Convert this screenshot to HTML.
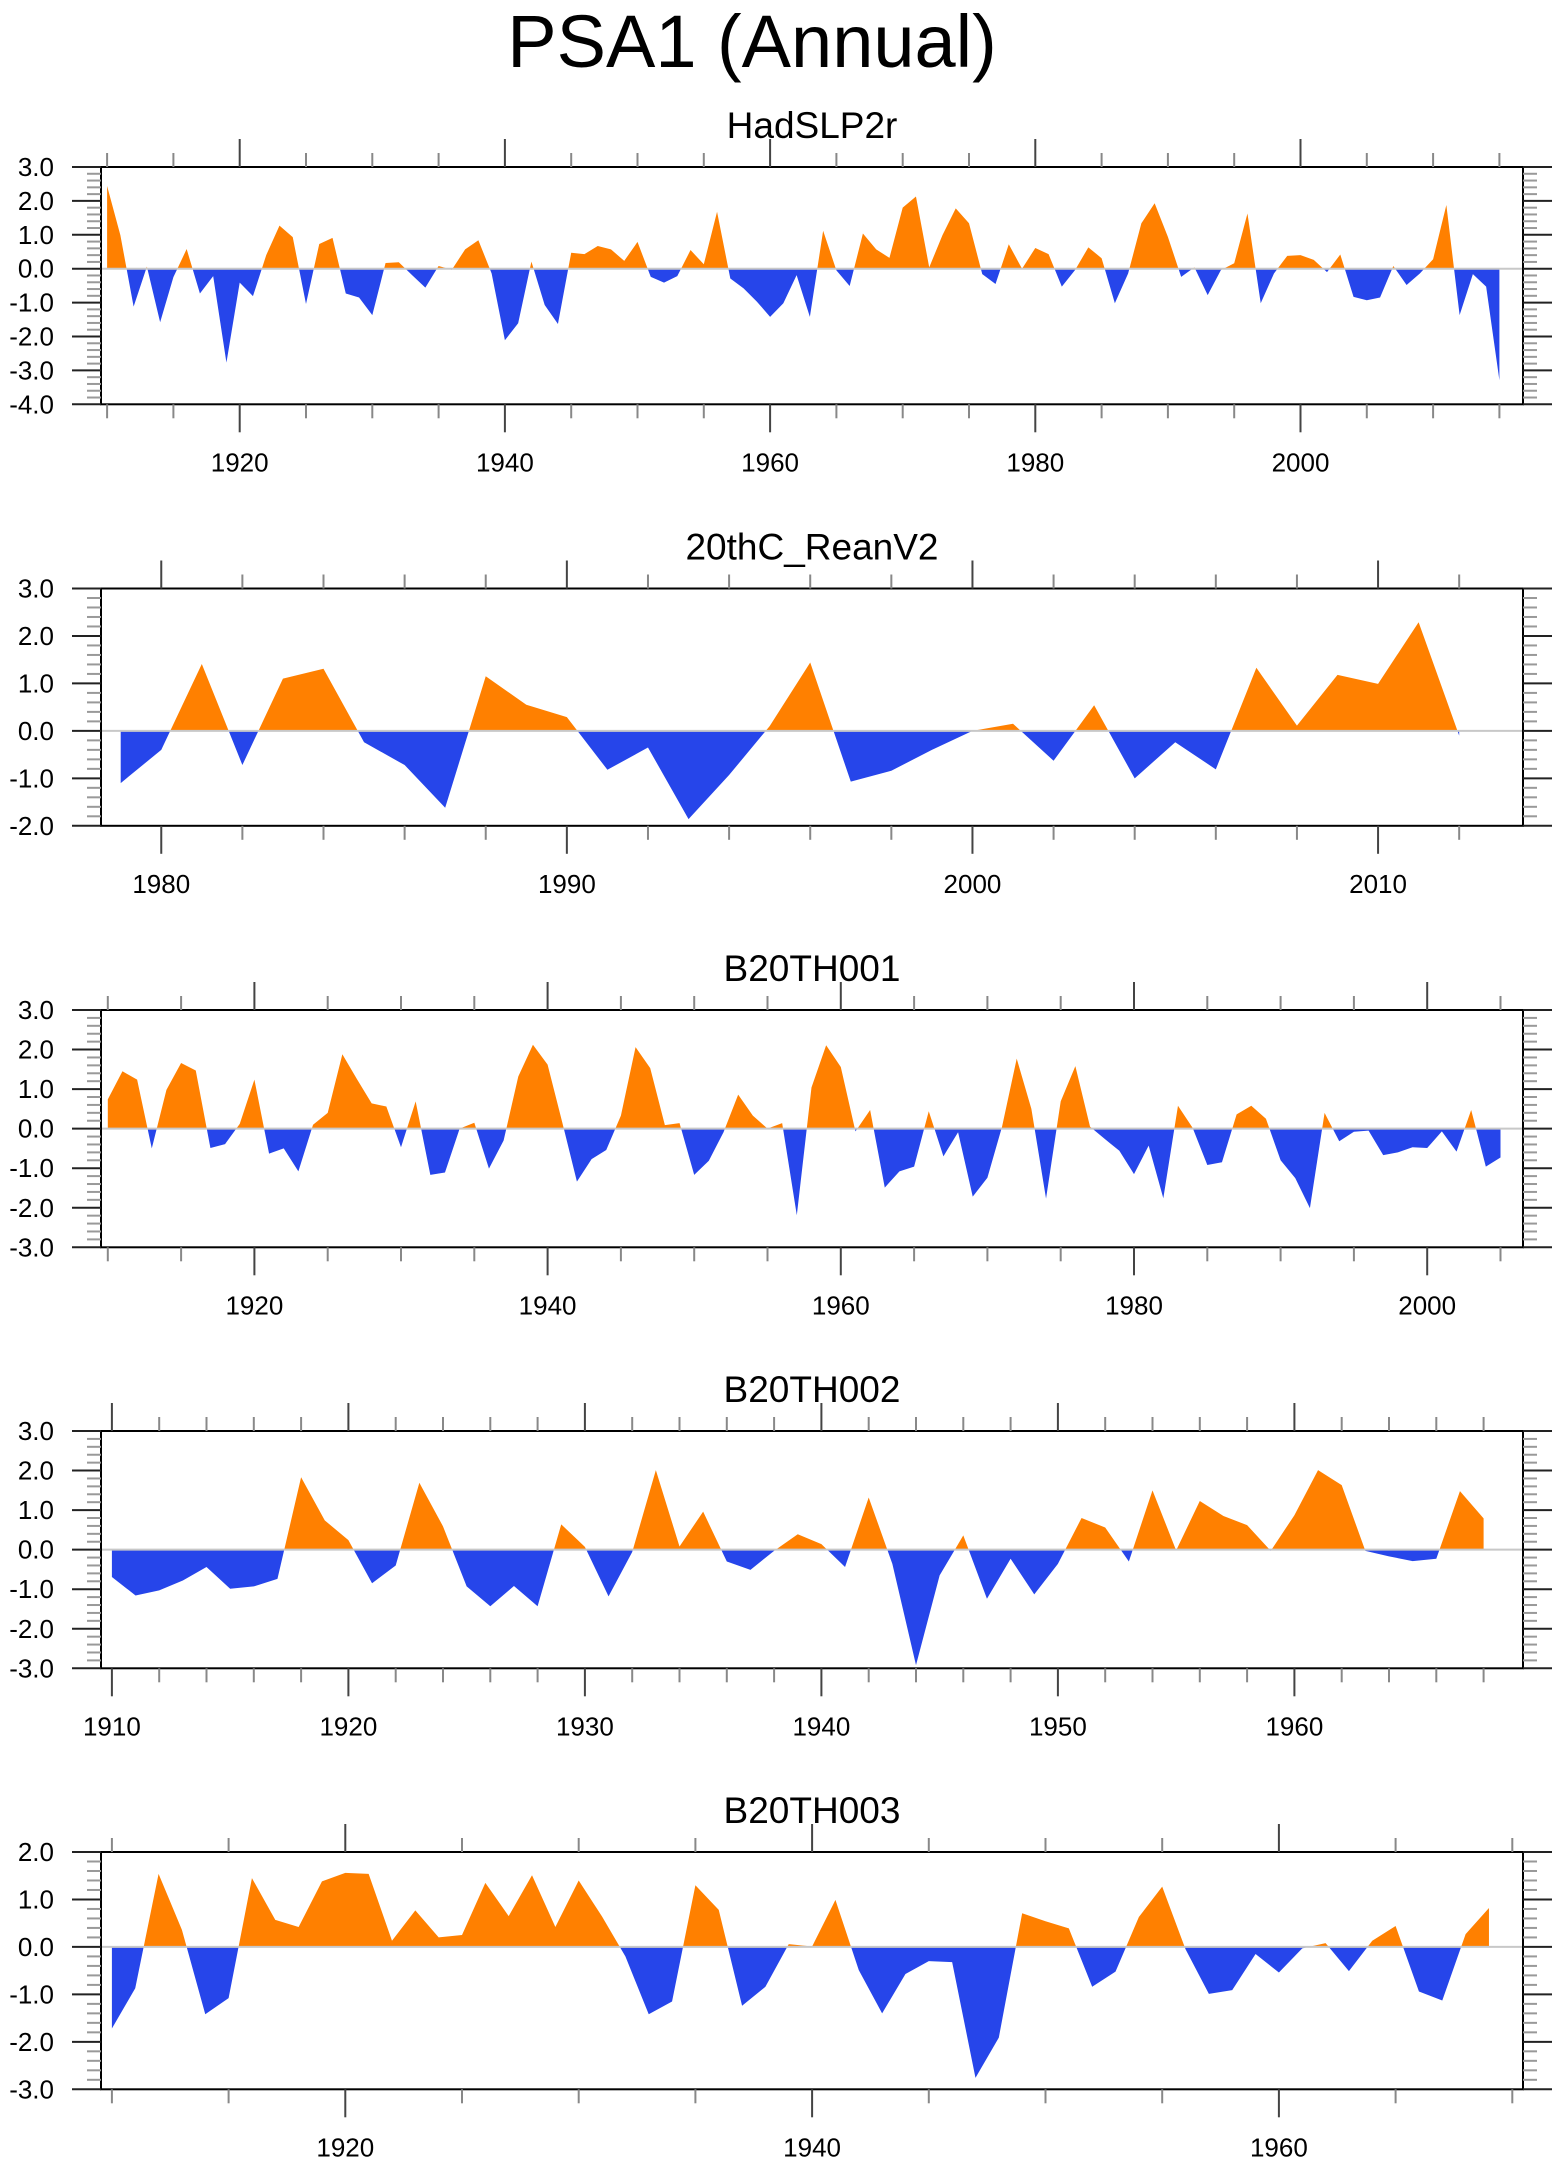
<!DOCTYPE html>
<html><head><meta charset="utf-8"><title>PSA1 (Annual)</title>
<style>
html,body{margin:0;padding:0;background:#fff;}
svg{display:block;font-family:"Liberation Sans",Arial,sans-serif;}
</style></head>
<body>
<svg id="fig" width="1560" height="2165" viewBox="0 0 1560 2165" xmlns="http://www.w3.org/2000/svg">
<text x="752" y="67" font-size="74" text-anchor="middle" fill="#000">PSA1 (Annual)</text>
</svg>
<script>
const hadYears0 = 1910;
const hadValues = [2.44,0.99,-1.12,0.06,-1.58,-0.25,0.58,-0.73,-0.22,-2.77,-0.41,-0.81,0.40,1.27,0.93,-1.04,0.73,0.91,-0.73,-0.85,-1.37,0.17,0.19,-0.19,-0.56,0.08,-0.03,0.57,0.84,-0.14,-2.11,-1.61,0.21,-1.07,-1.63,0.47,0.43,0.67,0.57,0.23,0.79,-0.24,-0.41,-0.22,0.55,0.13,1.68,-0.29,-0.58,-0.97,-1.42,-1.02,-0.19,-1.42,1.12,-0.05,-0.51,1.04,0.57,0.32,1.80,2.13,0.04,0.99,1.78,1.34,-0.16,-0.45,0.72,0.0,0.61,0.43,-0.53,-0.04,0.63,0.31,-1.02,-0.14,1.34,1.93,0.94,-0.24,0.04,-0.78,-0.04,0.16,1.63,-1.02,-0.14,0.38,0.40,0.26,-0.10,0.42,-0.83,-0.93,-0.85,0.08,-0.48,-0.14,0.28,1.88,-1.37,-0.16,-0.53,-3.29];
const reanYears0 = 1979;
const reanValues = [-1.10,-0.40,1.41,-0.72,1.10,1.31,-0.24,-0.72,-1.62,1.15,0.55,0.29,-0.82,-0.35,-1.86,-0.93,0.10,1.44,-1.07,-0.84,-0.40,0.0,0.15,-0.63,0.54,-1.00,-0.24,-0.81,1.33,0.11,1.18,0.99,2.29,-0.10];
const b001Years0 = 1910;
const b001Values = [0.74,1.45,1.24,-0.50,0.98,1.66,1.47,-0.49,-0.39,0.12,1.24,-0.63,-0.50,-1.08,0.10,0.40,1.88,1.25,0.64,0.56,-0.47,0.69,-1.17,-1.11,0.0,0.15,-1.01,-0.30,1.32,2.12,1.62,0.16,-1.34,-0.77,-0.54,0.33,2.06,1.53,0.09,0.14,-1.17,-0.81,-0.09,0.86,0.33,0.0,0.14,-2.19,1.04,2.11,1.56,-0.07,0.47,-1.49,-1.08,-0.96,0.44,-0.70,-0.09,-1.72,-1.24,0.05,1.77,0.50,-1.77,0.69,1.58,0.05,-0.26,-0.56,-1.15,-0.43,-1.76,0.58,0.02,-0.92,-0.85,0.36,0.58,0.25,-0.80,-1.25,-2.01,0.40,-0.32,-0.08,-0.05,-0.67,-0.60,-0.47,-0.49,-0.07,-0.58,0.47,-0.96,-0.73];
const b002Years0 = 1910;
const b002Values = [-0.69,-1.16,-1.03,-0.78,-0.44,-0.99,-0.93,-0.74,1.83,0.74,0.24,-0.85,-0.40,1.69,0.59,-0.93,-1.43,-0.92,-1.43,0.64,0.07,-1.18,-0.06,2.01,0.08,0.96,-0.30,-0.51,-0.03,0.39,0.14,-0.44,1.32,-0.36,-2.92,-0.65,0.36,-1.24,-0.23,-1.13,-0.36,0.80,0.56,-0.30,1.50,-0.02,1.23,0.85,0.62,-0.03,0.87,2.01,1.63,-0.03,-0.17,-0.29,-0.23,1.48,0.79];
const b003Years0 = 1910;
const b003Values = [-1.72,-0.87,1.54,0.36,-1.42,-1.08,1.45,0.57,0.42,1.38,1.56,1.54,0.13,0.77,0.20,0.25,1.35,0.65,1.51,0.42,1.40,0.64,-0.20,-1.42,-1.15,1.30,0.78,-1.24,-0.84,0.06,0.01,0.99,-0.49,-1.40,-0.57,-0.30,-0.32,-2.76,-1.91,0.71,0.54,0.39,-0.84,-0.52,0.63,1.27,-0.05,-0.99,-0.91,-0.15,-0.54,-0.03,0.08,-0.51,0.13,0.44,-0.94,-1.13,0.27,0.82];

const panelTitles = ["HadSLP2r","20thC_ReanV2","B20TH001","B20TH002","B20TH003"];
const yMins = [-4,-2,-3,-3,-3];
const yMaxs = [3,3,3,3,2];
const xLabelYears = [[1920,1940,1960,1980,2000],[1980,1990,2000,2010],[1920,1940,1960,1980,2000],[1910,1920,1930,1940,1950,1960],[1920,1940,1960]];

const NS = "http://www.w3.org/2000/svg";
const svg = document.getElementById("fig");
function mk(tag, attrs, parent){const e=document.createElementNS(NS,tag);for(const k in attrs)e.setAttribute(k,attrs[k]);(parent||svg).appendChild(e);return e;}

const L=101, R=1523, H=237.3;
const tops=[167,588.5,1010,1431,1852];
const xMaps=[{x0:107.1,s:13.26},{x0:120.7,s:40.56},{x0:107.8,s:14.66},{x0:111.9,s:23.65},{x0:111.9,s:23.34}];
const minorStep=[5,2,5,2,5], majorStep=[20,10,20,10,20];
const seriesVals=[hadValues,reanValues,b001Values,b002Values,b003Values];
const seriesY0=[hadYears0,reanYears0,b001Years0,b002Years0,b003Years0];
const slugs=["hadslp2r","20thc-reanv2","b20th001","b20th002","b20th003"];

for(let p=0;p<5;p++){
  const top=tops[p], bot=top+H;
  const ymin=yMins[p], ymax=yMaxs[p];
  const yS=v=>top+(ymax-v)/(ymax-ymin)*H;
  const xm=xMaps[p];
  const xS=yr=>xm.x0+xm.s*(yr-seriesY0[p]);
  const g=mk("g",{});
  
  
  const t=mk("text",{x:812,y:top-29,"font-size":37,"text-anchor":"middle",fill:"#000"},g);
  t.textContent=panelTitles[p];
  
  
  const cid="c"+p;
  const dfs=mk("defs",{},g);
  const cpA=mk("clipPath",{id:cid+"a"},dfs); mk("rect",{x:L,y:top,width:R-L,height:yS(0)-top},cpA);
  const cpB=mk("clipPath",{id:cid+"b"},dfs); mk("rect",{x:L,y:yS(0),width:R-L,height:bot-yS(0)},cpB);
  const vals=seriesVals[p];
  let pts=xS(seriesY0[p]).toFixed(2)+","+yS(0).toFixed(2)+" ";
  vals.forEach((v,i)=>{pts+=xS(seriesY0[p]+i).toFixed(2)+","+yS(v).toFixed(2)+" ";});
  pts+=xS(seriesY0[p]+vals.length-1).toFixed(2)+","+yS(0).toFixed(2);
  const pos=mk("polygon",{points:pts,fill:"#FF8000","clip-path":"url(#"+cid+"a)"},g);
  
  
  const neg=mk("polygon",{points:pts,fill:"#2645EA","clip-path":"url(#"+cid+"b)"},g);
  
  
  const zl=mk("line",{x1:L,x2:R,y1:yS(0),y2:yS(0),stroke:"#c8c8c8","stroke-width":2},g);
  
  
  const fr=mk("rect",{x:L,y:top,width:R-L,height:H,fill:"none",stroke:"#000","stroke-width":2},g);
  
  
  for(let v=ymin; v<=ymax+1e-9; v+=0.2){
    const yy=yS(v);
    const major=Math.abs(v-Math.round(v))<1e-6;
    const len=major?29:14, col=major?"#222":"#999";
    mk("line",{x1:L-len,x2:L,y1:yy,y2:yy,stroke:col,"stroke-width":2},g);
    mk("line",{x1:R,x2:R+len,y1:yy,y2:yy,stroke:col,"stroke-width":2},g);
    if(major){
      const lb=mk("text",{x:54,y:yy+9,"font-size":26,"text-anchor":"end",fill:"#000"},g);
      lb.textContent=Math.round(v).toFixed(1);
      
      
    }
  }
  const yStart=Math.ceil((seriesY0[p]+(L-xm.x0)/xm.s)/minorStep[p])*minorStep[p];
  for(let yr=yStart; xS(yr)<=R+0.5; yr+=minorStep[p]){
    const xx=xS(yr);
    const major=yr%majorStep[p]===0;
    const len=major?28:14, col=major?"#444":"#888";
    mk("line",{x1:xx,x2:xx,y1:top-len,y2:top,stroke:col,"stroke-width":2},g);
    mk("line",{x1:xx,x2:xx,y1:bot,y2:bot+len,stroke:col,"stroke-width":2},g);
  }
  xLabelYears[p].forEach(yr=>{
    const lb=mk("text",{x:xS(yr),y:bot+67,"font-size":26,"text-anchor":"middle",fill:"#000"},g);
    lb.textContent=String(yr);
    
    
  });
}
</script>
</body></html>
